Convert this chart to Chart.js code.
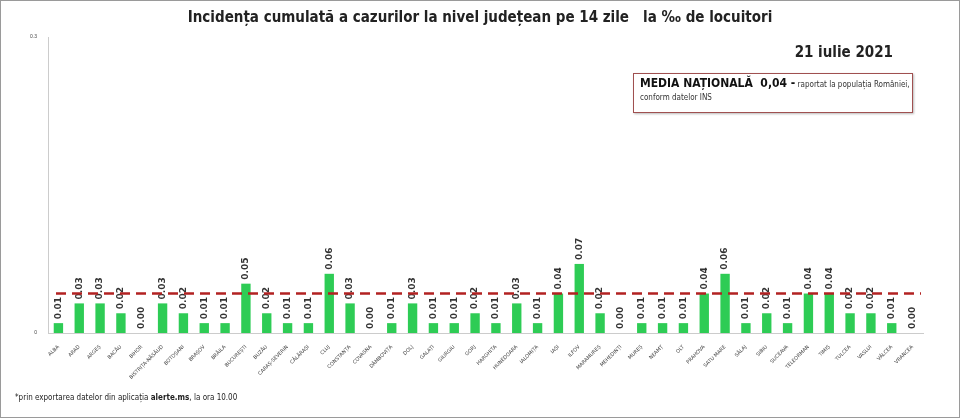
<!DOCTYPE html>
<html><head><meta charset="utf-8">
<script src="https://cdn.jsdelivr.net/npm/chart.js@4"></script>
<style>
  html,body{margin:0;padding:0;background:#fff;}
  #wrap{position:relative;width:958px;height:416px;border:1px solid #9a9a9a;font-family:"Liberation Sans Narrow","DejaVu Sans Condensed",sans-serif;}
  canvas{position:absolute;left:0;top:0;}
  .title{position:absolute;left:0;right:0;top:7px;text-align:center;font-weight:bold;font-size:15px;color:#222;}
  .date{position:absolute;right:66px;top:42px;font-weight:bold;font-size:15px;color:#222;}
  .box{position:absolute;left:632px;top:72px;width:280px;height:40px;border:1px solid #a05050;box-shadow:1px 1px 2px #bbb;padding:3px 0 0 6px;box-sizing:border-box;font-size:8px;color:#333;line-height:13px;}
  .box b{font-size:12px;color:#111;}
  .foot{position:absolute;left:14px;top:392px;font-size:8px;color:#222;}
</style></head>
<body><div id="wrap">
<canvas id="c" width="958" height="416"></canvas>
<div class="title">Incidența cumulată a cazurilor la nivel județean pe 14 zile &nbsp; la ‰ de locuitori</div>
<div class="date">21 iulie 2021</div>
<div class="box"><b>MEDIA NAȚIONALĂ&nbsp; 0,04 -</b> raportat la populația României,<br>conform datelor INS</div>
<div class="foot">*prin exportarea datelor din aplicația <b>alerte.ms</b>, la ora 10.00</div>
</div>
<script>
const counties = ['ALBA','ARAD','ARGEȘ','BACĂU','BIHOR','BISTRIȚA-NĂSĂUD','BOTOȘANI','BRAȘOV','BRĂILA','BUCUREȘTI','BUZĂU','CARAȘ-SEVERIN','CĂLĂRAȘI','CLUJ','CONSTANȚA','COVASNA','DÂMBOVIȚA','DOLJ','GALAȚI','GIURGIU','GORJ','HARGHITA','HUNEDOARA','IALOMIȚA','IAȘI','ILFOV','MARAMUREȘ','MEHEDINȚI','MUREȘ','NEAMȚ','OLT','PRAHOVA','SATU MARE','SĂLAJ','SIBIU','SUCEAVA','TELEORMAN','TIMIȘ','TULCEA','VASLUI','VÂLCEA','VRANCEA'];
const incidence = [0.01,0.03,0.03,0.02,0.00,0.03,0.02,0.01,0.01,0.05,0.02,0.01,0.01,0.06,0.03,0.00,0.01,0.03,0.01,0.01,0.02,0.01,0.03,0.01,0.04,0.07,0.02,0.00,0.01,0.01,0.01,0.04,0.06,0.01,0.02,0.01,0.04,0.04,0.02,0.02,0.01,0.00];
const nationalMean = 0.04;
const yTicks = [0, 0.3];

// value labels rotated above each bar
const valueLabels = {
  id:'valueLabels',
  afterDatasetsDraw(chart){
    const ctx = chart.ctx, meta = chart.getDatasetMeta(0);
    ctx.save();
    ctx.font = 'bold 9px "DejaVu Sans"';
    ctx.fillStyle = '#333';
    ctx.textAlign = 'left'; ctx.textBaseline = 'middle';
    meta.data.forEach((bar,i)=>{
      ctx.save();
      ctx.translate(bar.x, bar.y - 4);
      ctx.rotate(-Math.PI/2);
      ctx.fillText(incidence[i].toFixed(2), 0, 0);
      ctx.restore();
    });
    ctx.restore();
  }
};
// national mean dashed line
const meanLine = {
  id:'meanLine',
  afterDatasetsDraw(chart){
    const y = chart.scales.y.getPixelForValue(nationalMean), a = chart.chartArea;
    const ctx = chart.ctx;
    ctx.save();
    ctx.strokeStyle = '#b22222'; ctx.lineWidth = 2.5; ctx.setLineDash([10,6]);
    ctx.beginPath(); ctx.moveTo(a.left + 8, y); ctx.lineTo(a.right - 2, y); ctx.stroke();
    ctx.restore();
  }
};

new Chart(document.getElementById('c'), {
  type:'bar',
  data:{ labels: counties, datasets:[{ data: incidence, backgroundColor:'#2ecc55', barPercentage:0.45, categoryPercentage:1 }] },
  options:{
    responsive:false, animation:false,
    layout:{ padding:{ top:36, right:36, left:0, bottom:0 } },
    plugins:{ legend:{display:false}, tooltip:{enabled:false} },
    scales:{
      x:{
        grid:{display:false}, border:{color:'#ccc'},
        ticks:{ font:{size:5, family:'"DejaVu Sans"'}, color:'#444', maxRotation:45, minRotation:45, autoSkip:false },
        afterFit(s){ s.height = 84; }
      },
      y:{
        min:0, max:0.3,
        grid:{display:false}, border:{color:'#ccc'},
        afterBuildTicks(s){ s.ticks = yTicks.map(v=>({value:v})); },
        ticks:{ font:{size:5}, color:'#444', callback:v=>v===0?'0':String(v) },
        afterFit(s){ s.width = 47; }
      }
    }
  },
  plugins:[valueLabels, meanLine]
});
</script>
</body></html>
